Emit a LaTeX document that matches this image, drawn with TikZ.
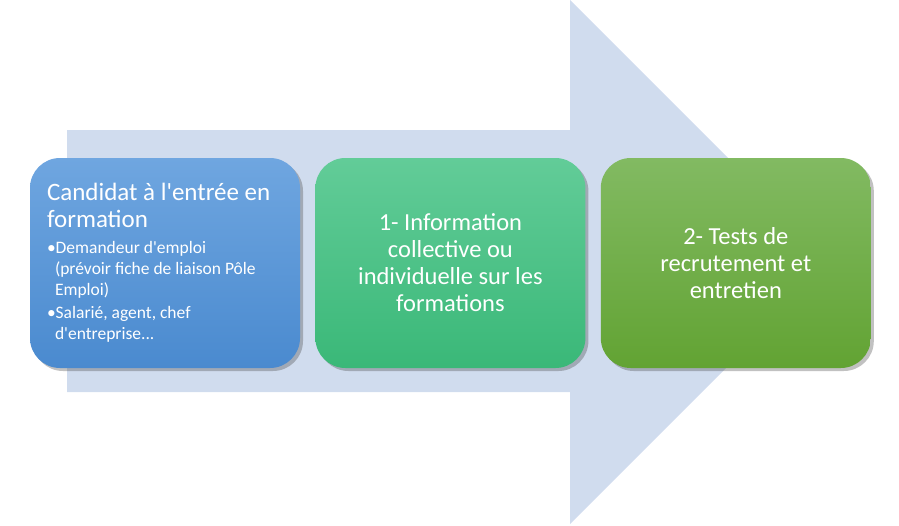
\documentclass[tikz,border=0pt]{standalone}
\usepackage{fontspec}
\setmainfont{Carlito}
\usetikzlibrary{positioning,shadows}
\definecolor{fleche}{HTML}{D0DCEE}
\definecolor{bleuhaut}{HTML}{6FA6E0}
\definecolor{bleubas}{HTML}{4A8ACF}
\definecolor{turqhaut}{HTML}{62CC98}
\definecolor{turqbas}{HTML}{3AB878}
\definecolor{verthaut}{HTML}{82BA62}
\definecolor{vertbas}{HTML}{62A333}
\newcommand\apos{\textquotesingle}
\tikzset{
  etape/.style={rectangle, rounded corners=30pt, minimum width=270pt, minimum height=210pt,
    text=white, inner sep=0pt,
    drop shadow={shadow xshift=3pt, shadow yshift=-3pt, opacity=.35, fill=black!70}},
  titre/.style={text width=240pt, align=flush center, font=\fontsize{24.5}{27}\selectfont}
}
\begin{document}
\begin{tikzpicture}[x=1pt,y=-1pt]
            \def \gap {15pt}
            \def \retrait {\hspace*{8pt}}
            \useasboundingbox (0,0) rectangle (899,525);
            % grande fleche de fond
            \fill[fleche] (67,130) -- (570,130) -- (570,0) -- (832,262) -- (570,524) -- (570,392) -- (67,392) -- cycle;
            \node[etape, top color=bleuhaut, bottom color=bleubas, text width=236pt, align=flush left] (candidat) at (165,263)
              {\fontsize{25}{27}\selectfont Candidat à l\apos entrée en\\formation\par
               \fontsize{17.5}{21}\selectfont\vspace{5pt}
               •Demandeur d\apos emploi\\\retrait(prévoir fiche de liaison Pôle\\\retrait Emploi)\par
               \vspace{2pt}
               •Salarié, agent, chef\\\retrait d\apos entreprise...\par};
            \node[etape, titre, top color=turqhaut, bottom color=turqbas, right=\gap of candidat] (information)
              {1- Information\\collective ou\\individuelle sur les\\formations};
            \node[etape, titre, top color=verthaut, bottom color=vertbas, right=\gap of information] (tests)
              {2- Tests de\\recrutement et\\entretien};
        \end{tikzpicture}
\end{document}
